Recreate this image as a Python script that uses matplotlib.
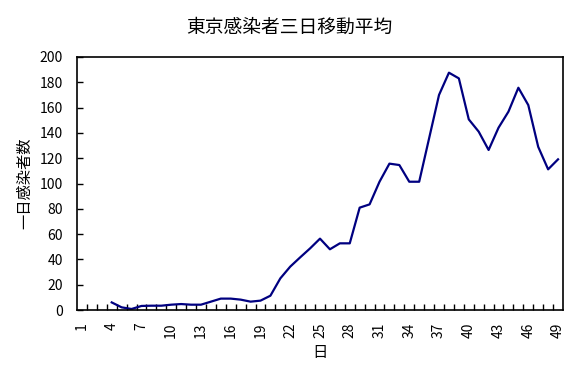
import matplotlib
matplotlib.use("Agg")
import matplotlib.pyplot as plt
import numpy as np

plt.rcParams['font.family'] = ['Noto Sans CJK JP', 'DejaVu Sans']

days = list(range(4, 50))
values = [6, 2.1, 0.8, 3.2, 3.4, 3.4, 4.2, 4.7, 4.2, 4.2, 6.6, 9, 9, 8.2, 6.6, 7.4,
          11.3, 25, 34.3, 41.6, 48.7, 56.4, 48, 52.7, 52.7, 80.9, 83.5, 101.4, 115.7,
          114.6, 101.4, 101.4, 135.7, 170, 187.6, 183.1, 150.7, 141, 126.5, 144.1,
          156.8, 175.7, 162, 129, 111.2, 119.1]
xtick_labels = [str(d) for d in range(1, 50, 3)]

fig = plt.figure(figsize=(5.78, 3.79), dpi=100)
ax = fig.add_axes([77/578, 1-310/379, (563-77)/578, (310-57)/379])

ax.plot(days, values, color='#000080', linewidth=1.6)
ax.set_xlim(0.5, 49.5)
ax.set_ylim(0, 200)
ax.set_yticks(range(0, 201, 20))
ax.set_xticks(range(1, 50, 3))
ax.set_xticklabels(xtick_labels, rotation=90, fontsize=10, va='top')
ax.set_xticks(np.arange(1.5, 49.5, 1), minor=True)
ax.tick_params(axis='x', which='major', length=0, pad=9)
ax.tick_params(axis='x', which='minor', direction='in', length=4, width=1)
ax.tick_params(axis='y', direction='in', length=4, width=1, labelsize=10, pad=10)
for s in ax.spines.values():
    s.set_linewidth(1.2)
    s.set_color('black')

fig.text(320/578, 1-352/379, '日', fontsize=11, ha='center', va='center')
fig.text(25/578, 1-183.5/379, '一日感染者数', fontsize=11, ha='center', va='center', rotation=90)
fig.text(289/578, 1-27/379, '東京感染者三日移動平均', fontsize=13.5, ha='center', va='center')

fig.savefig('out.png', dpi=100)
